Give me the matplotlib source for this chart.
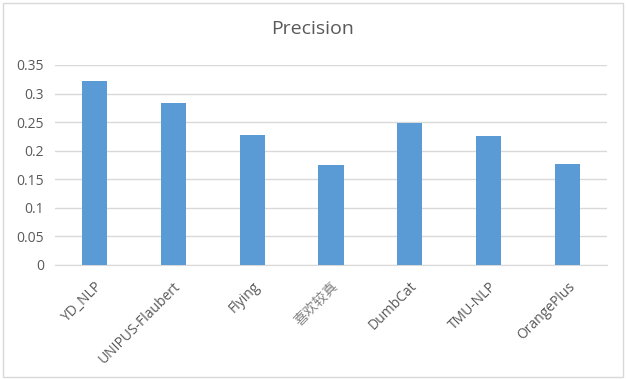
import matplotlib
matplotlib.use("Agg")
import matplotlib.pyplot as plt
from matplotlib.patches import Rectangle

categories = ["YD_NLP", "UNIPUS-Flaubert", "Flying", "喜欢较真", "DumbCat", "TMU-NLP", "OrangePlus"]
precision = [0.322, 0.284, 0.228, 0.175, 0.249, 0.226, 0.177]
yticks = [0, 0.05, 0.1, 0.15, 0.2, 0.25, 0.3, 0.35]
ytick_labels = ["0", "0.05", "0.1", "0.15", "0.2", "0.25", "0.3", "0.35"]

plt.rcParams['font.family'] = ['Open Sans', 'Noto Sans CJK SC', 'DejaVu Sans']

fig = plt.figure(figsize=(6.26, 3.79), dpi=100)
ax = fig.add_axes([55/626, 1 - 265/379, 552/626, 200/379])

x = list(range(len(categories)))
ax.bar(x, precision, width=0.32, color="#5B9BD5", zorder=3)
ax.set_xlim(-0.5, len(categories) - 0.5)
ax.set_ylim(0, 0.35)
ax.set_yticks(yticks)
ax.set_yticklabels(ytick_labels)
ax.yaxis.grid(True, color="#D9D9D9", linewidth=1, zorder=0)
for s in ["top", "right", "left"]:
    ax.spines[s].set_visible(False)
ax.spines["bottom"].set_color("#D9D9D9")
ax.tick_params(axis="both", length=0, colors="#595959", labelsize=10)
ax.tick_params(axis="y", pad=8)
ax.tick_params(axis="x", pad=10)
ax.set_xticks(x)
ax.set_xticklabels(categories, rotation=45, ha="right", rotation_mode="anchor")
for lbl in ax.get_xticklabels():
    if lbl.get_text() == "喜欢较真":
        lbl.set_fontfamily(['Noto Sans CJK SC'])
        lbl.set_color("#808080")

fig.text(313/626, 1 - 29/379, "Precision", ha="center", va="center", fontsize=14, color="#595959")

fig.patches.append(Rectangle((2.5/626, 2.5/379), 620/626, 374/379, transform=fig.transFigure,
                             fill=False, edgecolor="#D9D9D9", linewidth=1))

fig.savefig("out.png", dpi=100, facecolor="white")
